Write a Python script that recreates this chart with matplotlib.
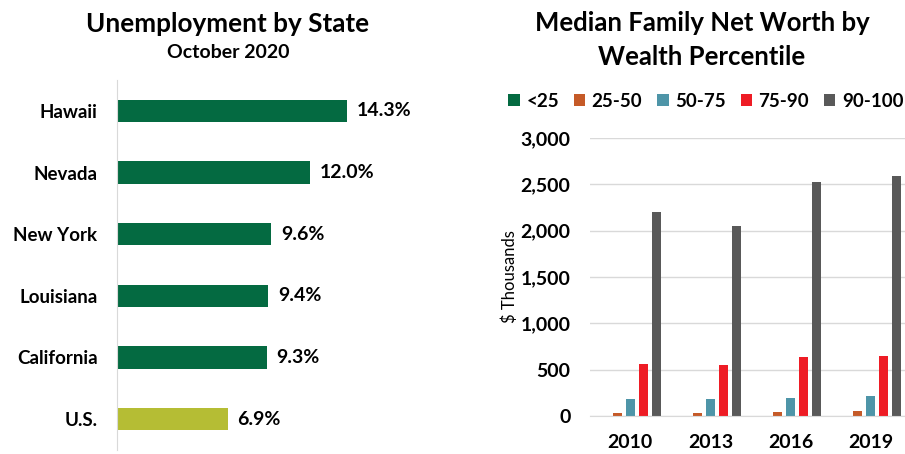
import numpy as np
import matplotlib
matplotlib.use('Agg')
import matplotlib.pyplot as plt
from matplotlib.ticker import FuncFormatter

plt.rcParams['font.family'] = ['Lato', 'DejaVu Sans']
plt.rcParams['font.weight'] = 'bold'

# left panel data
states = ['Hawaii', 'Nevada', 'New York', 'Louisiana', 'California', 'U.S.']
rates = [14.3, 12.0, 9.6, 9.4, 9.3, 6.9]

# right panel data
years = ['2010', '2013', '2016', '2019']
groups = ['<25', '25-50', '50-75', '75-90', '90-100']
worth = {
    '<25': [1, 1, 1, 1],
    '25-50': [32, 32, 40, 57],
    '50-75': [180, 180, 198, 213],
    '75-90': [559, 551, 641, 652],
    '90-100': [2198, 2053, 2528, 2592],
}
colors = ['#046A41', '#C55A28', '#4E95A8', '#EE1C25', '#595959']

fig = plt.figure(figsize=(9.05, 4.54), dpi=100)

# ---- left: unemployment by state
ax1 = fig.add_axes([117/905, 4/454, 320/905, 370/454])
y = np.arange(len(states))
bar_cols = ['#046A41'] * 5 + ['#B5BD34']
ax1.barh(y, rates, height=0.36, color=bar_cols)
for yi, r in zip(y, rates):
    ax1.text(r + 0.6, yi, f'{r:.1f}%', va='center', ha='left', fontsize=14, fontweight='bold')
ax1.set_ylim(len(states) - 0.5, -0.5)
ax1.set_xlim(0, 19.9)
ax1.set_yticks(y)
ax1.set_yticklabels(states, fontsize=13.5, fontweight='bold')
ax1.tick_params(axis='y', length=0, pad=14)
ax1.set_xticks([])
for s in ['top', 'right', 'bottom']:
    ax1.spines[s].set_visible(False)
ax1.spines['left'].set_color('#D9D9D9')

fig.text(228/905, 1 - 24/454, 'Unemployment by State', ha='center', va='center',
         fontsize=18.8, fontweight='bold')
fig.text(228/905, 1 - 52/454, 'October 2020', ha='center', va='center',
         fontsize=14, fontweight='bold')

# ---- right: median family net worth
ax2 = fig.add_axes([590/905, 38/454, 321/905, 278/454])
x = np.arange(len(years))
step = 0.162
bw = 0.112
for i, g in enumerate(groups):
    ax2.bar(x + (i - 2) * step, worth[g], width=bw, color=colors[i], label=g)
ax2.set_xlim(-0.5, 3.5)
ax2.set_ylim(0, 3000)
ax2.set_yticks(np.arange(0, 3001, 500))
ax2.yaxis.set_major_formatter(FuncFormatter(lambda v, p: f'{int(v):,}'))
ax2.set_xticks(x)
ax2.set_xticklabels(years, fontsize=14, fontweight='bold')
ax2.tick_params(axis='y', length=0, pad=14, labelsize=14)
ax2.tick_params(axis='x', length=0, pad=13)
ax2.grid(axis='y', color='#D9D9D9', linewidth=1)
ax2.set_axisbelow(True)
for s in ['top', 'right', 'left']:
    ax2.spines[s].set_visible(False)
ax2.spines['bottom'].set_color('#D9D9D9')
ax2.set_ylabel('$ Thousands', fontsize=12, fontweight='normal', labelpad=2)

fig.text(702/905, 1 - 23/454, 'Median Family Net Worth by', ha='center', va='center',
         fontsize=18.5, fontweight='bold')
fig.text(702/905, 1 - 57/454, 'Wealth Percentile', ha='center', va='center',
         fontsize=18.5, fontweight='bold')
fig.legend(*ax2.get_legend_handles_labels(), loc='center', bbox_to_anchor=(706/905, 1 - 101/454),
           ncol=5, frameon=False, fontsize=13.5, handlelength=0.6, handleheight=0.6,
           handletextpad=0.35, columnspacing=0.8, borderpad=0)

fig.savefig('out.png', dpi=100)
